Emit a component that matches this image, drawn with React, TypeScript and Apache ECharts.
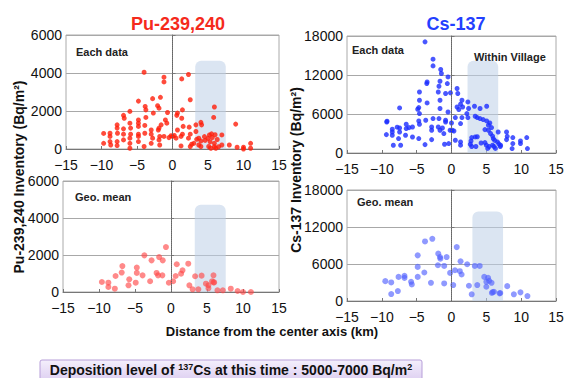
import React, { useEffect, useRef } from "react";
import * as echarts from "echarts";

// ---- Data (x: distance from center axis km, y: inventory Bq/m2) ----
const puEach: number[][] = [
  [-4.0, 4040], [-1.2, 3780], [-1.2, 3530], [-4.8, 2520], [-2.8, 2650], [-1.7, 2720], [-3.85, 2240], [-3.75, 2060],
  [-2.1, 2280], [-1.9, 2150], [-6.0, 1980], [-2.7, 1890], [-0.7, 1920], [-6.9, 1770], [-6.8, 1620], [-3.75, 1660],
  [-1.0, 1530], [-7.8, 1270], [-7.8, 1100], [-4.8, 1530], [-4.8, 1360], [-4.8, 1190], [-6.0, 1360], [-5.9, 1100],
  [-3.9, 1240], [-6.9, 1060], [-3.0, 1000], [-1.9, 1100], [-1.6, 1270], [-0.8, 1360], [-9.7, 820], [-8.8, 830],
  [-8.8, 660], [-7.75, 830], [-6.9, 780], [-5.9, 780], [-6.0, 570], [-4.8, 780], [-4.8, 660], [-3.9, 830],
  [-3.0, 780], [-2.8, 570], [-2.0, 1000], [-1.8, 660], [-1.2, 660], [-0.5, 600], [-9.7, 300], [-8.8, 390],
  [-8.7, 210], [-7.8, 390], [-7.8, 180], [-6.9, 480], [-6.0, 300], [-4.8, 390], [-4.0, 130], [-3.0, 300],
  [-1.9, 480], [-1.8, 210], [-6.0, 40],
  [1.3, 3690], [2.25, 3920], [2.5, 2590], [5.9, 2210], [1.4, 2060], [0.7, 1890], [0.6, 1770], [5.8, 1660],
  [1.3, 1620], [8.9, 1310], [4.0, 1400], [4.1, 1270], [3.3, 1270], [1.5, 1190], [2.35, 1150], [0.7, 1000],
  [3.3, 920], [1.4, 780], [2.5, 780], [5.2, 740], [5.5, 800], [6.0, 750], [5.6, 600], [6.95, 740],
  [0.25, 710], [0.5, 570], [1.2, 660], [2.25, 570], [3.4, 510], [3.7, 570], [4.0, 420], [4.6, 450],
  [5.0, 560], [5.9, 300], [5.3, 380], [2.7, 250], [2.5, 130], [1.2, 160], [3.7, 210], [4.0, 130],
  [5.1, 130], [5.4, 40], [5.9, 120], [6.1, 40], [6.95, 210], [8.0, 210], [9.1, 90], [10.0, 90],
  [10.0, 0], [11.0, 300], [11.0, 40], [0.0, 660], [-0.2, 700], [4.5, 650], [6.3, 500], [3.0, 300], [6.5, 120],
];

const csEach: number[][] = [
  [-3.8, 17100], [-2.65, 14430], [-2.65, 13400], [-1.55, 12840], [-1.45, 12230], [-1.65, 11040], [-0.5, 11700],
  [-3.5, 10930], [-3.55, 10680], [-1.8, 10270], [-1.9, 9390], [-0.6, 10680], [-4.6, 9390], [-4.6, 8110],
  [-0.85, 9150], [-3.5, 7700], [-1.65, 8110], [-4.7, 6990], [-4.85, 6730], [-7.45, 6930], [-1.65, 6840],
  [-4.6, 6070], [-0.5, 6310], [-9.25, 4880], [-6.5, 4420], [-4.7, 4930], [-4.6, 4420], [-3.7, 5040],
  [-2.65, 5300], [-1.8, 5300], [-0.85, 5040], [-8.5, 3650], [-8.5, 3230], [-8.5, 2730], [-7.45, 3850],
  [-7.45, 3230], [-6.5, 3760], [-5.6, 4000], [-9.35, 2830], [-7.6, 2220], [-5.6, 2460], [-4.7, 2220],
  [-2.85, 4000], [-2.85, 3500], [-1.9, 4000], [-1.65, 3500], [-1.3, 3850], [-1.1, 2990], [-0.85, 4770],
  [-7.3, 1190], [-8.35, 1190], [-6.6, 2730], [-3.8, 1290], [-2.85, 2060], [-1.0, 1340], [-9.3, 4770],
  [-7.8, 3970], [-6.1, 3900], [-0.2, 3500], [-0.4, 1450],
  [0.8, 9920], [0.9, 9150], [-0.15, 9250], [1.5, 8110], [1.3, 7500], [1.6, 7080], [0.8, 7080], [1.05, 6690],
  [2.35, 7860], [3.3, 7190], [4.1, 6840], [5.05, 7190], [2.45, 6840], [2.2, 6070], [2.35, 5450], [3.4, 5650],
  [3.7, 5450], [4.1, 5300], [4.55, 5140], [5.05, 4930], [5.5, 4620], [0.55, 5450], [1.5, 5450], [0.0, 4620],
  [1.3, 4530], [0.1, 3500], [0.35, 3390], [5.3, 4270], [5.75, 3910], [4.8, 3600], [5.3, 3500], [5.6, 3000],
  [5.9, 2600], [6.0, 2200], [6.2, 1940], [6.7, 3230], [7.9, 3230], [8.0, 2570], [8.8, 2370], [10.8, 2370],
  [9.9, 1850], [8.8, 1450], [8.7, 680], [9.9, 1450], [10.9, 680], [7.9, 2060], [7.05, 1190], [6.6, 1700],
  [6.8, 1400], [7.0, 1000], [5.9, 1200], [6.1, 1000], [4.8, 1600], [5.0, 1200], [5.2, 700], [5.4, 1000],
  [2.9, 2370], [2.8, 1850], [2.7, 1340], [2.9, 1000], [3.4, 2470], [3.5, 1000], [4.25, 1540], [0.55, 1960],
  [1.3, 1700], [1.3, 1200], [3.7, 2500], [6.3, 700],
];

const puGeo: number[][] = [
  [-0.7, 2430], [-3.7, 1980], [-2.7, 1710], [-1.65, 1890], [-1.15, 1710], [-6.75, 1400], [-4.75, 1320],
  [0.8, 1500], [2.4, 1530], [1.6, 1170], [1.4, 990], [-6.85, 1050], [-7.7, 865], [-5.8, 685], [-4.75, 1030],
  [-3.95, 900], [-2.0, 1030], [-1.8, 900], [-1.2, 900], [-2.9, 580], [-5.9, 360], [-4.9, 505], [-9.6, 540],
  [-8.7, 505], [-8.7, 270], [-7.8, 180], [-0.3, 500], [0.3, 580], [0.65, 865], [2.55, 360], [3.0, 145],
  [3.35, 850], [4.25, 885], [3.8, 145], [4.85, 450], [5.2, 360], [5.2, 200], [5.9, 900], [5.7, 580],
  [5.9, 520], [6.0, 520], [6.45, 90], [7.2, 90], [8.3, 180], [9.25, 55], [10.0, 0], [11.1, 0],
];

const csGeo: number[][] = [
  [-3.8, 9660], [-2.75, 10090], [0.75, 8740], [-4.85, 7400], [-1.9, 7680], [-1.65, 7130], [-1.6, 6860],
  [-0.7, 7130], [1.3, 6440], [2.25, 5960], [3.35, 5690], [4.05, 5690], [-4.85, 5530], [-1.95, 5800],
  [-1.05, 5690], [-3.9, 4620], [-0.2, 4560], [0.5, 4990], [1.2, 4830], [1.45, 4300], [-7.6, 3910],
  [-6.75, 4070], [-6.75, 3750], [-5.8, 3110], [-5.7, 2690], [-4.85, 3910], [-9.5, 3220], [-8.65, 3010],
  [-7.7, 1610], [-8.65, 1130], [-2.95, 2950], [-1.05, 2850], [0.25, 2580], [2.5, 2470], [3.7, 2580],
  [2.9, 1080], [4.7, 3910], [5.25, 3750], [5.4, 3270], [5.0, 3110], [5.75, 2950], [5.0, 2310], [8.0, 2410],
  [5.8, 1300], [6.1, 1500], [5.9, 1450], [6.9, 1240], [7.0, 1300], [8.95, 1080], [9.9, 1400], [10.9, 800],
];

// village extent per panel: [xStart, xEnd, yTop]
const villagePuEach = [3.2, 7.5, 4650];
const villageCsEach = [2.3, 6.7, 14200];
const villagePuGeo = [3.3, 7.6, 4720];
const villageCsGeo = [3.0, 7.4, 14500];

const xTicks = { min: -15, max: 15, interval: 5 };
const puTicks = { min: 0, max: 6000, interval: 2000 };
const csTicks = { min: 0, max: 18000, interval: 6000 };

const titles = ["Pu-239,240", "Cs-137"];
const panelLabels = ["Each data", "Each data", "Geo. mean", "Geo. mean"];

const FONT = "'Liberation Sans', Arial, Helvetica, sans-serif";

export default function App() {
  const ref = useRef<HTMLDivElement>(null);

  useEffect(() => {
    if (!ref.current) return;
    const chart = echarts.init(ref.current, undefined, { renderer: "svg" });

    const grids = [
      { left: 66, top: 35, width: 213, height: 114 },
      { left: 347, top: 36, width: 209, height: 117 },
      { left: 63, top: 181, width: 216, height: 111 },
      { left: 347, top: 190, width: 209, height: 111 },
    ];
    const ySpecs = [puTicks, csTicks, puTicks, csTicks];
    const datasets = [puEach, csEach, puGeo, csGeo];
    const villages = [villagePuEach, villageCsEach, villagePuGeo, villageCsGeo];
    const colors = ["#ff1e0a", "#1b2dff", "rgba(255,70,70,0.8)", "rgba(80,95,255,0.8)"];
    const sizes = [5, 5, 6, 6];

    const xAxis = grids.map((_, i) => ({
      gridIndex: i,
      type: "value",
      ...xTicks,
      axisLine: { show: true, onZero: false, lineStyle: { color: "#777", width: 1 } },
      axisTick: { show: true, inside: true, length: 3, lineStyle: { color: "#777" } },
      axisLabel: {
        fontSize: 14,
        color: "#111",
        margin: 9,
        fontFamily: FONT,
        formatter: (v: number) => String(v).replace("-", "\u2212"),
      },
      splitLine: { show: false },
    }));

    const yAxis = grids.map((_, i) => ({
      gridIndex: i,
      type: "value",
      ...ySpecs[i],
      axisLine: { show: true, lineStyle: { color: "#777", width: 1 } },
      axisTick: { show: true, inside: true, length: 3, lineStyle: { color: "#777" } },
      axisLabel: {
        fontSize: 14,
        color: "#111",
        margin: 4,
        fontFamily: FONT,
        verticalAlign: "middle",
        formatter: (v: number) => String(v),
      },
      splitLine: { show: true, lineStyle: { color: "#a8a8a8", width: 1.2 } },
    }));

    const series: any[] = [];
    datasets.forEach((d, i) => {
      series.push({
        type: "custom",
        xAxisIndex: i,
        yAxisIndex: i,
        z: 1,
        silent: true,
        data: [villages[i]],
        renderItem: (_p: any, api: any) => {
          const p0 = api.coord([api.value(0), api.value(2)]);
          const p1 = api.coord([api.value(1), 0]);
          return {
            type: "rect",
            shape: { x: p0[0], y: p0[1], width: p1[0] - p0[0], height: p1[1] - p0[1], r: [6, 6, 0, 0] },
            style: { fill: "rgba(190,208,232,0.55)" },
          };
        },
      });
      series.push({
        type: "scatter",
        xAxisIndex: i,
        yAxisIndex: i,
        z: 3,
        symbolSize: sizes[i],
        itemStyle: { color: colors[i] },
        data: d,
        markLine: {
          silent: true,
          symbol: "none",
          label: { show: false },
          lineStyle: { type: "dotted", color: "#666", width: 1 },
          data: [{ xAxis: 0 }],
        },
      });
    });

    const labelPos = [
      [76, 52],
      [352, 50],
      [75, 197],
      [357, 202],
    ];

    const graphic: any[] = [
      {
        type: "text",
        x: 19,
        y: 177,
        rotation: Math.PI / 2,
        style: {
          text: "Pu-239,240 Inventory (Bq/m\u00b2)",
          font: `bold 14px ${FONT}`,
          fill: "#111",
          align: "center",
          verticalAlign: "middle",
        },
      },
      {
        type: "text",
        x: 296,
        y: 170,
        rotation: Math.PI / 2,
        style: {
          text: "Cs-137 Inventory (Bq/m\u00b2)",
          font: `bold 14px ${FONT}`,
          fill: "#111",
          align: "center",
          verticalAlign: "middle",
        },
      },
      {
        type: "text",
        x: 272,
        y: 331,
        style: {
          text: "Distance from the center axis (km)",
          font: `bold 13px ${FONT}`,
          fill: "#111",
          align: "center",
          verticalAlign: "middle",
        },
      },
      {
        type: "text",
        x: 474,
        y: 57,
        style: {
          text: "Within Village",
          font: `bold 11px ${FONT}`,
          fill: "#222",
          align: "left",
          verticalAlign: "middle",
        },
      },
      {
        type: "rect",
        shape: { x: 40, y: 360, width: 382, height: 22, r: 2 },
        style: {
          fill: new echarts.graphic.LinearGradient(0, 0, 0, 1, [
            { offset: 0, color: "#f4effc" },
            { offset: 1, color: "#dccdf0" },
          ]),
          stroke: "#b79fd9",
          lineWidth: 1,
        },
      },
      {
        type: "text",
        x: 231,
        y: 370,
        style: {
          text:
            "{a|Deposition level of }{s|137}{a|Cs at this time : 5000-7000 Bq/m}{s|2}",
          align: "center",
          verticalAlign: "middle",
          fill: "#111",
          rich: {
            a: { font: `bold 14px ${FONT}`, fill: "#111", verticalAlign: "middle" },
            s: { font: `bold 9px ${FONT}`, fill: "#111", verticalAlign: "top", padding: [0, 0, 6, 0] },
          },
        },
      },
    ];
    panelLabels.forEach((t, i) => {
      graphic.push({
        type: "text",
        x: labelPos[i][0],
        y: labelPos[i][1],
        style: { text: t, font: `bold 11px ${FONT}`, fill: "#222", align: "left", verticalAlign: "middle" },
      });
    });

    chart.setOption({
      animation: false,
      backgroundColor: "#ffffff",
      title: [
        {
          text: titles[0],
          left: 173,
          top: 10,
          textAlign: "center",
          textStyle: { color: "#f52a1c", fontSize: 18, fontWeight: "bold", fontFamily: FONT },
        },
        {
          text: titles[1],
          left: 451,
          top: 10,
          textAlign: "center",
          textStyle: { color: "#2340ff", fontSize: 18, fontWeight: "bold", fontFamily: FONT },
        },
      ],
      grid: grids.map((g) => ({ ...g, show: true, borderColor: "#aaa", borderWidth: 1, backgroundColor: "transparent" })),
      xAxis,
      yAxis,
      series,
      graphic,
    });

    return () => chart.dispose();
  }, []);

  return (
    <div
      ref={ref}
      style={{ position: "fixed", left: 0, top: 0, width: 570, height: 378, background: "#fff" }}
    />
  );
}
